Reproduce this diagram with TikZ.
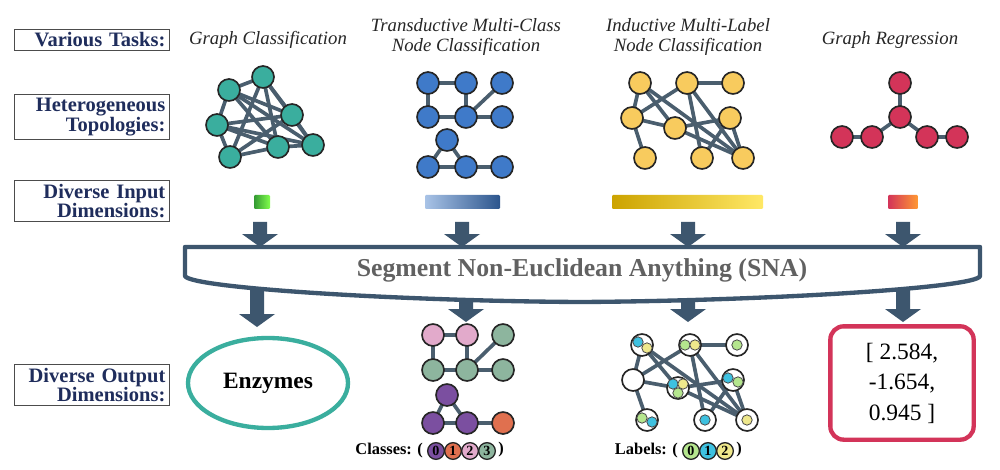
\documentclass[tikz,border=0pt]{standalone}
\usepackage{fontspec}
\setmainfont{Liberation Serif}
\usetikzlibrary{shapes.geometric}
\begin{document}
\begin{tikzpicture}[x=0.3mm,y=-0.3mm,
  lab/.style={draw=black!70,line width=0.35mm,minimum width=46.5mm,align=right,text=navy,font=\fontsize{17.5}{17}\selectfont\bfseries,inner sep=1mm,text width=44mm},
  ttl/.style={font=\fontsize{16}{17}\selectfont\itshape,align=center,text=black!85},
  v/.style={circle,draw=black!85,line width=0.5mm,minimum size=6.6mm,inner sep=0pt},
  e/.style={draw=edgec,line width=1.1mm},
  leg/.style={circle,draw=black!85,line width=0.4mm,minimum size=5mm,inner sep=0pt,font=\fontsize{12}{12}\selectfont\bfseries},
  legt/.style={font=\fontsize{14}{14}\selectfont\bfseries}]
\definecolor{navy}{HTML}{1F2D5C}
\definecolor{edgec}{HTML}{4A5E6E}
\definecolor{arrowc}{HTML}{3D566E}
\definecolor{teal1}{HTML}{3AAE9E}
\definecolor{blue1}{HTML}{3F7AC9}
\definecolor{yel1}{HTML}{F8CB5E}
\definecolor{red1}{HTML}{D33459}
\definecolor{cpur}{HTML}{7B4FA0}
\definecolor{cora}{HTML}{E0704F}
\definecolor{cpink}{HTML}{E2AACB}
\definecolor{cgrn}{HTML}{8DB59E}
\definecolor{lg}{HTML}{B5E68E}
\definecolor{lc}{HTML}{3EC1E0}
\definecolor{ly}{HTML}{EFE88C}
\useasboundingbox[fill=white] (0,0) rectangle (1000,470);
\newcommand\dnarrow[3]{\fill[arrowc] ({#1-7},#2) -- ({#1+7},#2) -- ({#1+7},{#3-13}) -- ({#1+18},{#3-13}) -- (#1,#3) -- ({#1-18},{#3-13}) -- ({#1-7},{#3-13}) -- cycle;}
% left labels
\node[lab] (l1) at (92,40) {Various Tasks:};
\node[lab] (l2) at (92,117) {Heterogeneous\\Topologies:};
\node[lab] (l3) at (92,201) {Diverse Input\\Dimensions:};
\node[lab] (l4) at (92,385) {Diverse Output\\Dimensions:};
% titles
\node[ttl] (t1) at (268,40) {Graph Classification};
\node[ttl] (t2) at (466,37) {Transductive Multi-Class\\Node Classification};
\node[ttl] (t3) at (688,37) {Inductive Multi-Label\\Node Classification};
\node[ttl] (t4) at (890,40) {Graph Regression};
% graph 1
\foreach \n/\p in {g1/{263,77},g2/{229,90},g3/{217,125},g4/{230,157},g5/{278,147},g6/{292,115},g7/{313,145}}
  \coordinate (\n) at (\p);
\foreach \a/\b in {g1/g2,g2/g3,g3/g4,g4/g5,g5/g7,g1/g6,g6/g7,g2/g6,g2/g5,g2/g7,g1/g5,g1/g4,g3/g6,g3/g7,g3/g5,g4/g6,g1/g7}
  \draw[e] (\a) -- (\b);
\foreach \n in {g1,g2,g3,g4,g5,g6,g7} \node[v,fill=teal1] (N\n) at (\n) {};
% graph 2
\foreach \n/\p in {b1/{428,83},b2/{466,83},b3/{502,83},b4/{428,117},b5/{466,117},b6/{502,117},b7/{447,140},b8/{428,167},b9/{466,167},b10/{502,167}}
  \coordinate (\n) at (\p);
\foreach \a/\b in {b1/b2,b1/b4,b2/b5,b3/b5,b4/b5,b5/b6,b7/b8,b7/b9,b8/b9,b9/b10}
  \draw[e] (\a) -- (\b);
\foreach \n in {b1,b2,b3,b4,b5,b6,b7,b8,b9,b10} \node[v,fill=blue1] (N\n) at (\n) {};
% graph 3
\foreach \n/\p in {y1/{640,83},y2/{687,83},y3/{733,83},y4/{632,118},y5/{675,128},y6/{730,118},y7/{645,158},y8/{702,158},y9/{743,158}}
  \coordinate (\n) at (\p);
\foreach \a/\b in {y1/y4,y1/y5,y2/y3,y2/y4,y2/y8,y1/y9,y4/y5,y4/y7,y5/y6,y5/y9,y6/y8,y6/y9,y2/y9}
  \draw[e] (\a) -- (\b);
\foreach \n in {y1,y2,y3,y4,y5,y6,y7,y8,y9} \node[v,fill=yel1] (N\n) at (\n) {};
% graph 4
\foreach \n/\p in {r1/{900,83},r2/{900,117},r3/{842,137},r4/{872,137},r5/{927,137},r6/{957,137}}
  \coordinate (\n) at (\p);
\foreach \a/\b in {r1/r2,r2/r4,r4/r3,r2/r5,r5/r6}
  \draw[e] (\a) -- (\b);
\foreach \n in {r1,r2,r3,r4,r5,r6} \node[v,fill=red1] (N\n) at (\n) {};
% input bars
\shade[left color=green!50!black!80,right color=green!60!lime!70,rounded corners=1pt] (254,195) rectangle (270,209);
\shade[left color=blue1!45,right color=blue1!70!black,rounded corners=1pt] (425,195) rectangle (500,209);
\shade[left color=yellow!60!orange!80!black,right color=yellow!70!orange!60,rounded corners=1pt] (612,195) rectangle (763,209);
\shade[left color=red1,right color=orange!80,rounded corners=1pt] (888,195) rectangle (918,209);
% arrows
\dnarrow{260}{222}{247}
\dnarrow{462}{222}{247}
\dnarrow{688}{222}{247}
\dnarrow{903}{222}{247}
\dnarrow{257}{280}{327}
\dnarrow{466}{280}{322}
\dnarrow{688}{280}{322}
\dnarrow{903}{280}{322}
% SNA bar
\draw[arrowc,fill=white,line width=1.3mm,line join=round] (185,247) -- (980,247) -- (980,276) .. controls (978,288) and (760,301) .. (580,302) .. controls (400,301) and (190,288) .. (185,276) -- cycle;
\node[font=\fontsize{22}{22}\selectfont\bfseries,text=black!62] (sna) at (582,270) {Segment Non-Euclidean Anything (SNA)};
% output 1
\node[ellipse,draw=teal1,line width=1.3mm,minimum width=48mm,minimum height=27mm,font=\fontsize{20}{20}\selectfont\bfseries] (enz) at (268,383) {Enzymes};
% classes graph
\foreach \n/\p in {c1/{433,335},c2/{467,335},c3/{503,335},c4/{433,370},c5/{467,370},c6/{503,370},c7/{447,395},c8/{433,423},c9/{467,423},c10/{503,423}}
  \coordinate (\n) at (\p);
\foreach \a/\b in {c1/c2,c1/c4,c2/c5,c3/c5,c4/c5,c5/c6,c7/c8,c7/c9,c8/c9,c9/c10}
  \draw[e] (\a) -- (\b);
\foreach \n/\c in {c1/cpink,c2/cpink,c3/cgrn,c4/cgrn,c5/cgrn,c6/cgrn,c7/cpur,c8/cpur,c9/cpur,c10/cora}
  \node[v,fill=\c] (N\n) at (\n) {};
\node[legt,anchor=east] (clab) at (427,451) {Classes: (};
\foreach \i/\c/\x in {0/cpur/436,1/cora/453,2/cpink/470,3/cgrn/487}
  \node[leg,fill=\c] (cl\i) at (\x,451) {\i};
\node[legt] (crp) at (501,450) {)};
% labels graph
\foreach \n/\p in {n1/{642,345},n2/{690,345},n3/{737,345},n4/{633,380},n5/{678,388},n6/{733,380},n7/{647,420},n8/{705,420},n9/{747,420}}
  \coordinate (\n) at (\p);
\foreach \a/\b in {n1/n4,n1/n5,n2/n3,n2/n4,n2/n8,n1/n9,n4/n5,n4/n7,n5/n6,n5/n9,n6/n8,n6/n9,n2/n9}
  \draw[e] (\a) -- (\b);
\foreach \n in {n1,n2,n3,n4,n5,n6,n7,n8,n9} \node[v,fill=white] (N\n) at (\n) {};
\tikzset{d/.style={circle,draw=black!70,line width=0.25mm,minimum size=3.1mm,inner sep=0pt}}
\node[d,fill=lc] (d1) at (638,342) {}; \node[d,fill=ly] (d2) at (647,348) {};
\node[d,fill=lg] (d3) at (685,345) {}; \node[d,fill=ly] (d4) at (695,345) {};
\node[d,fill=lg] (d5) at (737,345) {};
\node[d,fill=lc] (d6) at (673,384) {}; \node[d,fill=ly] (d7) at (683,384) {}; \node[d,fill=lg] (d8) at (678,393) {};
\node[d,fill=lc] (d9) at (728,378) {}; \node[d,fill=lg] (d10) at (738,382) {};
\node[d,fill=lg] (d11) at (642,418) {}; \node[d,fill=lc] (d12) at (652,422) {};
\node[d,fill=lc] (d13) at (705,420) {};
\node[d,fill=ly] (d14) at (747,420) {};
\node[legt,anchor=east] (llab) at (682,451) {Labels: (};
\foreach \i/\c/\x in {0/lg/691,1/lc/708,2/ly/725}
  \node[leg,fill=\c] (ll\i) at (\x,451) {\i};
\node[legt] (lrp) at (739,450) {)};
% regression
\node[draw=red1,line width=1.3mm,rounded corners=4mm,minimum width=43mm,minimum height=34mm,align=center,font=\fontsize{20}{26}\selectfont] (reg) at (902,383) {[ 2.584,\\-1.654,\\0.945 ]};
\end{tikzpicture}
\end{document}
